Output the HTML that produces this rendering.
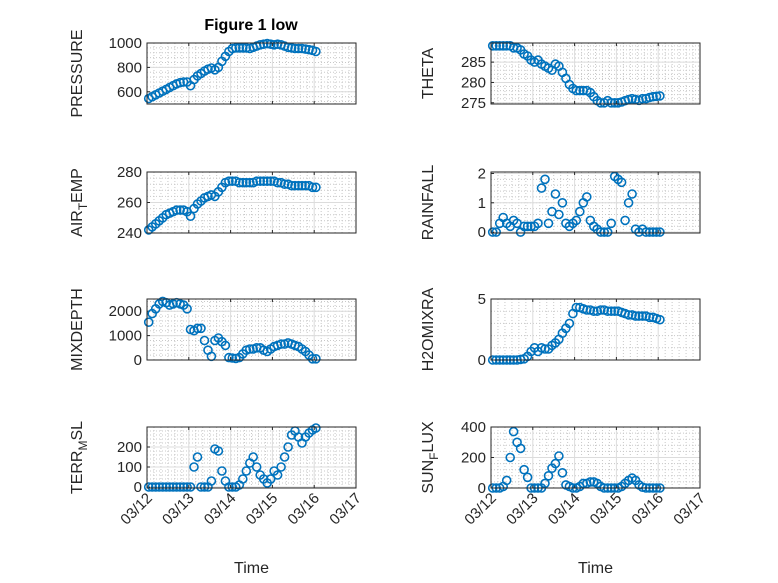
<!DOCTYPE html>
<html><head><meta charset="utf-8"><style>
body{margin:0;background:#fff;}
svg{display:block;font-family:"Liberation Sans",sans-serif;}
</style></head><body>
<svg id="fig" width="778" height="583" viewBox="0 0 778 583" xmlns="http://www.w3.org/2000/svg">
<rect width="778" height="583" fill="#fff"/>
<text x="251" y="30" font-size="16" font-weight="bold" text-anchor="middle" fill="#000">Figure 1 low</text>
</svg>
<script>
const hours=[1,3,5,7,9,11,13,15,17,19,21,23,25,27,29,31,33,35,37,39,41,43,45,47,49,51,53,55,57,59,61,63,65,67,69,71,73,75,77,79,81,83,85,87,89,91,93,95,97];
const pressure=[545,560,575,590,605,620,635,650,665,675,680,680,650,700,730,750,770,785,795,780,800,850,890,930,955,960,960,960,960,955,965,975,985,990,995,990,985,990,985,975,965,960,955,955,955,950,945,940,930];
const airTemp=[242,244,246,248,250,252,253,254,255,255,255,254,251,256,259,261,263,264,265,264,267,270,273,274,274,274,273,273,273,273,273,274,274,274,274,274,274,273,273,272,272,271,271,271,271,271,271,270,270];
const mixDepth=[1550,1900,2100,2300,2400,2350,2250,2300,2350,2300,2250,2100,1250,1200,1300,1300,800,400,150,800,900,750,600,100,80,60,100,250,400,450,450,500,500,400,350,450,550,600,650,650,700,650,600,550,450,350,200,50,50];
const terrMsl=[0,0,0,0,0,0,0,0,0,0,0,0,0,100,150,0,0,0,30,190,180,80,30,0,0,0,10,40,80,120,150,100,60,40,20,40,80,60,100,150,200,260,280,250,220,250,270,285,295];
const theta=[289,289,289,289,289,289,288.5,288.5,288,287,286.5,285.5,285,285.5,284.5,284,283.5,283,284.5,284,282.5,281,279.5,278.5,278,278,278,278,277.5,276.5,275.5,275,275,275.5,275,275,275,275.2,275.5,275.8,276,275.8,275.6,276,276,276.3,276.5,276.6,276.7];
const rainfall=[0,0,0.3,0.5,0.3,0.2,0.4,0.3,0,0.2,0.2,0.2,0.2,0.3,1.5,1.8,0.3,0.7,1.3,0.6,1.0,0.3,0.2,0.3,0.4,0.7,1.0,1.2,0.4,0.2,0.1,0,0,0,0.3,1.9,1.8,1.7,0.4,1.0,1.3,0.1,0,0.1,0,0,0,0,0];
const h2oMix=[0,0,0,0,0,0,0,0,0.05,0.1,0.3,0.7,1.0,0.7,1.0,0.9,0.9,1.2,1.4,1.7,2.2,2.6,3.0,3.8,4.3,4.3,4.2,4.1,4.1,4.0,4.0,4.1,4.1,4.0,4.0,4.0,4.0,3.9,3.8,3.7,3.7,3.6,3.6,3.6,3.6,3.5,3.5,3.4,3.3];
const sunFlux=[0,0,0,10,50,200,370,300,260,120,70,0,0,0,0,30,80,130,160,210,100,20,10,0,0,10,30,30,40,40,30,10,0,0,0,0,0,10,30,50,65,50,20,5,0,0,0,0,0];
const xTickLabels=["03/12","03/13","03/14","03/15","03/16","03/17"];

const NS="http://www.w3.org/2000/svg";
const svg=document.getElementById('fig');
function mk(tag,attrs,parent){const e=document.createElementNS(NS,tag);for(const k in attrs)e.setAttribute(k,attrs[k]);(parent||svg).appendChild(e);return e;}

const panels=[
 {key:'pressure',data:pressure,x0:147,y0:43,ylim:[500,1000],ticks:[600,800,1000],label:'PRESSURE',lo:65},
 {key:'air-temp',data:airTemp,x0:147,y0:172,ylim:[240,280],ticks:[240,260,280],label:'AIR_TEMP',lo:65},
 {key:'mixdepth',data:mixDepth,x0:147,y0:299,ylim:[0,2500],ticks:[0,1000,2000],label:'MIXDEPTH',lo:65},
 {key:'terr-msl',data:terrMsl,x0:147,y0:427,ylim:[-5,300],ticks:[0,100,200],label:'TERR_MSL',xt:true,lo:65},
 {key:'theta',data:theta,x0:491,y0:43,ylim:[274.7,289.7],ticks:[275,280,285],label:'THETA',lo:58},
 {key:'rainfall',data:rainfall,x0:491,y0:172,ylim:[-0.03,2.05],ticks:[0,1,2],label:'RAINFALL',lo:58},
 {key:'h2omixra',data:h2oMix,x0:491,y0:299,ylim:[0,5],ticks:[0,5],label:'H2OMIXRA',lo:58},
 {key:'sun-flux',data:sunFlux,x0:491,y0:427,ylim:[0,400],ticks:[0,200,400],label:'SUN_FLUX',xt:true,lo:58},
];
const W=209,H=61,days=5;
panels.forEach(p=>{
  const g=mk('g',{});
  
  
  const xs=h=>p.x0+h/24*W/days;
  const ys=v=>p.y0+H-(v-p.ylim[0])/(p.ylim[1]-p.ylim[0])*H;
  mk('rect',{x:p.x0,y:p.y0,width:W,height:H,fill:'#fff'},g);
  for(let d=0;d<days;d++)for(let k=1;k<6;k++){const x=p.x0+(d+k/6)*W/days;mk('line',{x1:x,x2:x,y1:p.y0,y2:p.y0+H,stroke:'#c8c8c8','stroke-width':1,'stroke-dasharray':'1,2'},g);}
  const step=p.ticks.length>1?p.ticks[1]-p.ticks[0]:1;
  const ms=step/5;
  for(let v=Math.ceil(p.ylim[0]/ms)*ms;v<=p.ylim[1];v+=ms){const y=ys(v);mk('line',{x1:p.x0,x2:p.x0+W,y1:y,y2:y,stroke:'#c8c8c8','stroke-width':1,'stroke-dasharray':'1,2'},g);}
  for(let d=1;d<days;d++){const x=p.x0+d*W/days;mk('line',{x1:x,x2:x,y1:p.y0,y2:p.y0+H,stroke:'#dcdcdc','stroke-width':1},g);}
  p.ticks.forEach(v=>{const y=ys(v);mk('line',{x1:p.x0,x2:p.x0+W,y1:y,y2:y,stroke:'#dcdcdc','stroke-width':1},g);
    const t=mk('text',{x:p.x0-5,y:y+5,'font-size':15,'text-anchor':'end',fill:'#262626'},g);t.textContent=v;
    mk('line',{x1:p.x0,x2:p.x0+3,y1:y,y2:y,stroke:'#262626'},g);});
  for(let d=0;d<=days;d++){const x=p.x0+d*W/days;mk('line',{x1:x,x2:x,y1:p.y0+H,y2:p.y0+H-3,stroke:'#262626'},g);mk('line',{x1:x,x2:x,y1:p.y0,y2:p.y0+3,stroke:'#262626'},g);
    if(p.xt){const t=mk('text',{'font-size':15,'text-anchor':'end',fill:'#262626',transform:`translate(${x+6},${p.y0+H+11}) rotate(-45)`},g);t.textContent=xTickLabels[d];}}
  p.data.forEach((v,i)=>{
    const c=mk('circle',{cx:xs(hours[i]).toFixed(1),cy:ys(v).toFixed(1),r:4,fill:'none',stroke:'#0072BD','stroke-width':1.6},g);
    
    
  });
  mk('rect',{x:p.x0,y:p.y0,width:W,height:H,fill:'none',stroke:'#262626','stroke-width':1},g);
  const lx=p.x0-p.lo, ly=p.y0+H/2;
  const yl=mk('text',{'font-size':16,'text-anchor':'middle',fill:'#262626',transform:`translate(${lx},${ly}) rotate(-90)`},svg);
  
  
  if(p.label.includes('_')){const [a,b]=p.label.split('_');
    const s1=mk('tspan',{},yl);s1.textContent=a;
    const s2=mk('tspan',{dy:5,'font-size':12},yl);s2.textContent=b[0];
    const s3=mk('tspan',{dy:-5},yl);s3.textContent=b.slice(1);}
  else yl.textContent=p.label;
  if(p.xt){const xl=mk('text',{x:p.x0+W/2,y:573,'font-size':16,'text-anchor':'middle',fill:'#262626'},svg);xl.textContent='Time';
    
    }
});
</script>
</body></html>
